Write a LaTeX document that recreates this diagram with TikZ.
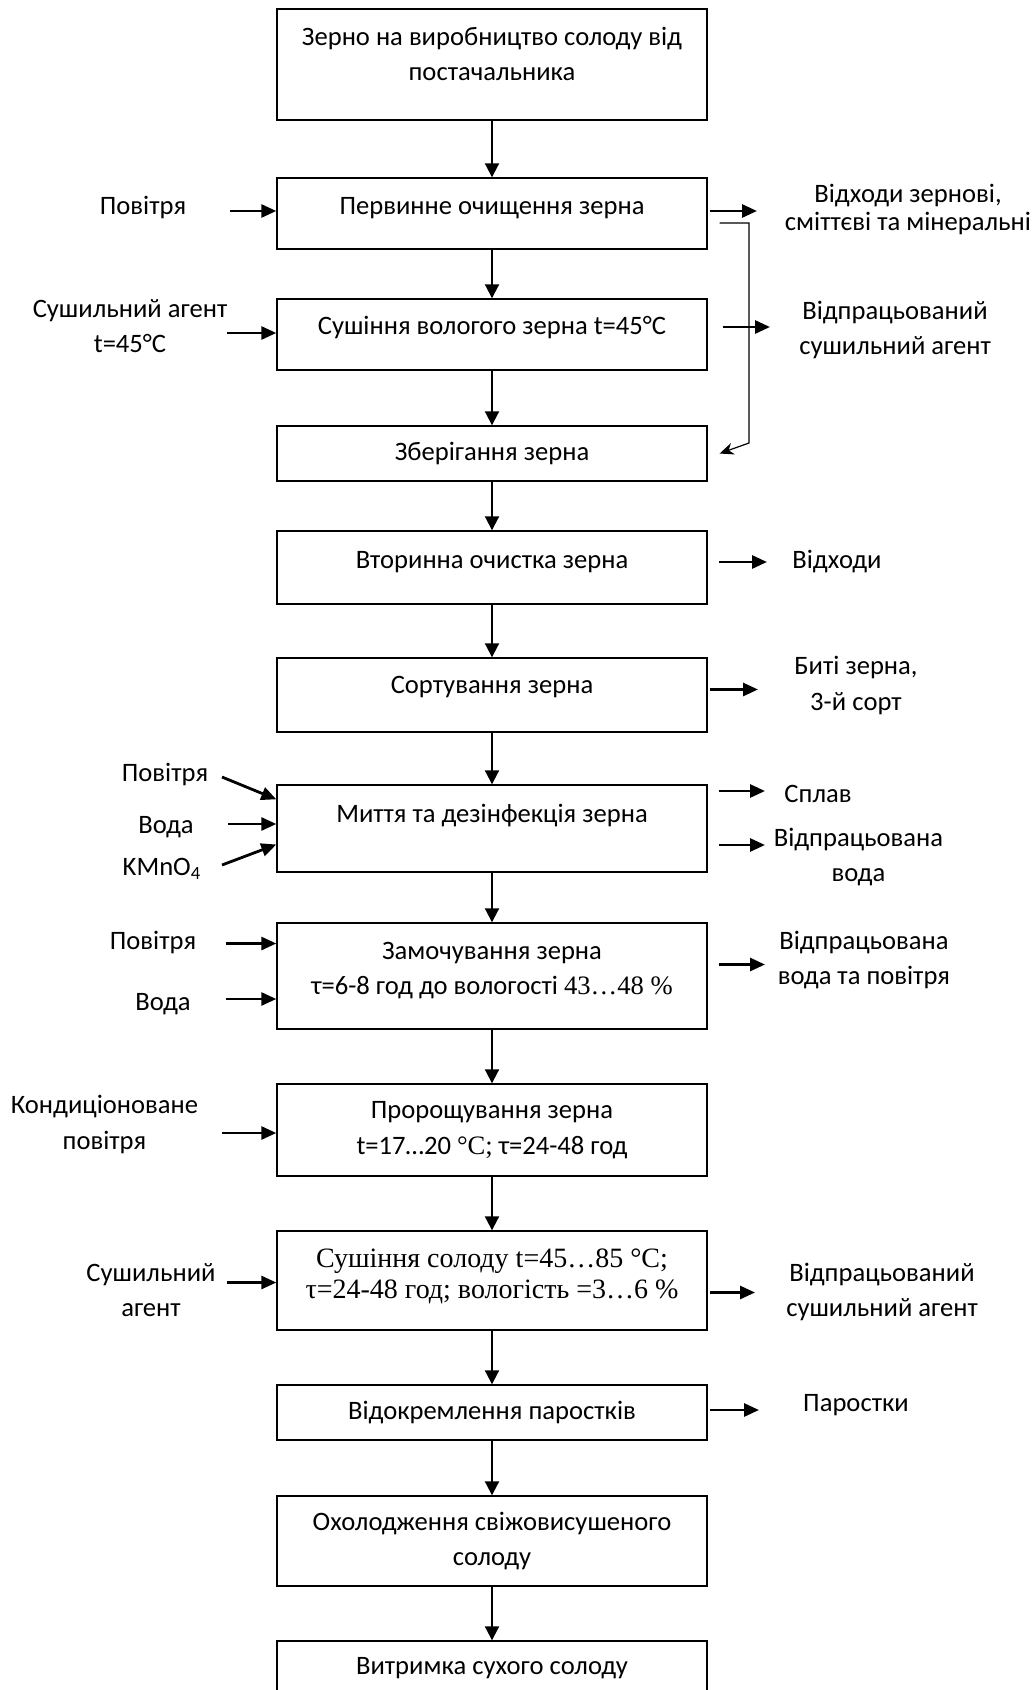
\documentclass[tikz,border=0pt]{standalone}
\usepackage{fontspec}
\setmainfont{Carlito}
\newfontfamily\timesfont{Liberation Serif}
\usetikzlibrary{arrows.meta,positioning}

\begin{document}
\begin{tikzpicture}[
    x=0.5pt, y=-0.5pt,
    font=\fontsize{13.3}{17.8}\selectfont,
    node distance=26.8pt,
    stage/.style={draw, line width=0.7pt, rectangle, align=center, minimum width=215pt, inner sep=2pt},
    lift/.style={text depth=#1},
    side/.style={align=center, inner sep=0pt},
    flow/.style={-{Triangle[length=7pt, width=7pt]}, line width=1pt},
    feed/.style={-{Triangle[length=7.5pt, width=6.5pt]}, line width=1.4pt},
    ret/.style={-{Stealth[length=7pt, width=6pt]}, line width=0.6pt}
]
\useasboundingbox (0,0) rectangle (1036,1690);

% main line
\node[stage, minimum height=55.5pt, lift=10.8pt] (b1) at (492,64.5) {Зерно на виробництво солоду від\\постачальника};
\node[stage, minimum height=35.5pt, lift=7.5pt, below=28.3pt of b1] (b2) {Первинне очищення зерна};
\node[stage, minimum height=35.5pt, lift=9.2pt, below=24.3pt of b2] (b3) {Сушіння вологого зерна t=45°C};
\node[stage, minimum height=27.5pt, below=27.3pt of b3] (b4) {Зберігання зерна};
\node[stage, minimum height=36.5pt, lift=7.5pt, below=24.3pt of b4] (b5) {Вторинна очистка зерна};
\node[stage, minimum height=37pt, lift=10.2pt, below=26.3pt of b5] (b6) {Сортування зерна};
\node[stage, minimum height=43.5pt, lift=15pt, below=25.8pt of b6] (b7) {Миття та дезінфекція зерна};
\node[stage, minimum height=53pt, lift=7.5pt, below=24.8pt of b7] (b8) {Замочування зерна\\τ=6-8 год до вологості {\timesfont 43…48 \%}};
\node[stage, minimum height=46pt, below=of b8] (b9) {Пророщування зерна\\t=17…20 {\timesfont °C;} τ=24-48 год};
\node[stage, minimum height=49.5pt, lift=7pt, below=of b9, font=\timesfont\fontsize{14}{15.6}\selectfont] (b10) {Сушіння солоду t=45…85 °C;\\τ=24-48 год; вологість =3…6 \%};
\node[stage, minimum height=27.5pt, below=of b10] (b11) {Відокремлення паростків};
\node[stage, minimum height=45pt, below=27.3pt of b11] (b12) {Охолодження свіжовисушеного\\солоду};
\node[stage, minimum height=27pt, below=of b12] (b13) {Витримка сухого солоду};

\draw[flow] (b1) -- (b2);
\draw[flow] (b2) -- (b3);
\draw[flow] (b3) -- (b4);
\draw[flow] (b4) -- (b5);
\draw[flow] (b5) -- (b6);
\draw[flow] (b6) -- (b7);
\draw[flow] (b7) -- (b8);
\draw[flow] (b8) -- (b9);
\draw[flow] (b9) -- (b10);
\draw[flow] (b10) -- (b11);
\draw[flow] (b11) -- (b12);
\draw[flow] (b12) -- (b13);

% inputs
\node[side] (air2) at (143,207) {Повітря};
\node[side] (agent3) at (130,326) {Сушильний агент\\t=45°C};
\node[side] (air7) at (165,774.5) {Повітря};
\node[side] (water7) at (166,827) {Вода};
\node[side] (kmno7) at (162,869) {KMnO\textsubscript{4}};
\node[side] (air8) at (153,942.5) {Повітря};
\node[side] (water8) at (163,1004) {Вода};
\node[side] (air9) at (104.5,1124.5) {Кондиціоноване\\повітря};
\node[side] (agent10) at (151,1290) {Сушильний\\агент};

\coordinate (i2) at (230,211);
\coordinate (i3) at (227,333);
\coordinate (i7a) at (222,777);
\coordinate (i7b) at (228,824);
\coordinate (i7c) at (222,865);
\coordinate (i8a) at (226,943.5);
\coordinate (i8b) at (226,999);
\coordinate (i9) at (222,1133);
\coordinate (i10) at (227,1282.5);

\draw[feed] (i2) -- (i2 -| b2.west);
\draw[feed] (i3) -- (i3 -| b3.west);
\draw[feed] (i7a) -- ([yshift=-7.5pt]b7.north west);
\draw[feed] (i7b) -- (i7b -| b7.west);
\draw[feed] (i7c) -- ([yshift=-8pt]b7.west);
\draw[feed] (i8a) -- (i8a -| b8.west);
\draw[feed] (i8b) -- (i8b -| b8.west);
\draw[feed] (i9) -- (i9 -| b9.west);
\draw[feed] (i10) -- (i10 -| b10.west);

% outputs
\node[side] (waste2) at (908,209) {Відходи зернові,\\[-3.8pt]сміттєві та мінеральні};
\node[side] (spent3) at (895,330) {Відпрацьований\\сушильний агент};
\node[side] (waste5) at (837,562) {Відходи};
\node[side] (broken6) at (856,685.5) {Биті зерна,\\3-й сорт};
\node[side] (float7) at (818,794) {Сплав};
\node[side] (water7out) at (858.5,857) {Відпрацьована\\вода};
\node[side] (spent8) at (864,960) {Відпрацьована\\вода та повітря};
\node[side] (spent10) at (882,1292) {Відпрацьований\\сушильний агент};
\node[side] (sprouts11) at (856,1405) {Паростки};

\coordinate (o2) at (757,211);
\coordinate (o3) at (770,327);
\coordinate (o5) at (767,562);
\coordinate (o6) at (758,689.5);
\coordinate (o7a) at (765,791);
\coordinate (o7b) at (765,845);
\coordinate (o8) at (765,964.5);
\coordinate (o10) at (755,1292.5);
\coordinate (o11) at (759,1410);

\draw[feed] ([xshift=1pt]b2.east |- o2) -- (o2);
\draw[feed] ([xshift=7.5pt]b3.east |- o3) -- (o3);
\draw[feed] ([xshift=5.5pt]b5.east |- o5) -- (o5);
\draw[feed] ([xshift=1pt]b6.east |- o6) -- (o6);
\draw[feed] ([xshift=5.5pt]b7.east |- o7a) -- (o7a);
\draw[feed] ([xshift=5.5pt]b7.east |- o7b) -- (o7b);
\draw[feed] ([xshift=5.5pt]b8.east |- o8) -- (o8);
\draw[feed] ([xshift=1pt]b10.east |- o10) -- (o10);
\draw[feed] ([xshift=1pt]b11.east |- o11) -- (o11);

% return line to storage
\coordinate (r1) at (749,223);
\coordinate (r2) at (749,443);
\draw[ret] ([xshift=6pt]b2.east |- r1) -- (r1) -- (r2) -- ([xshift=6pt]b4.east);
\end{tikzpicture}
\end{document}
